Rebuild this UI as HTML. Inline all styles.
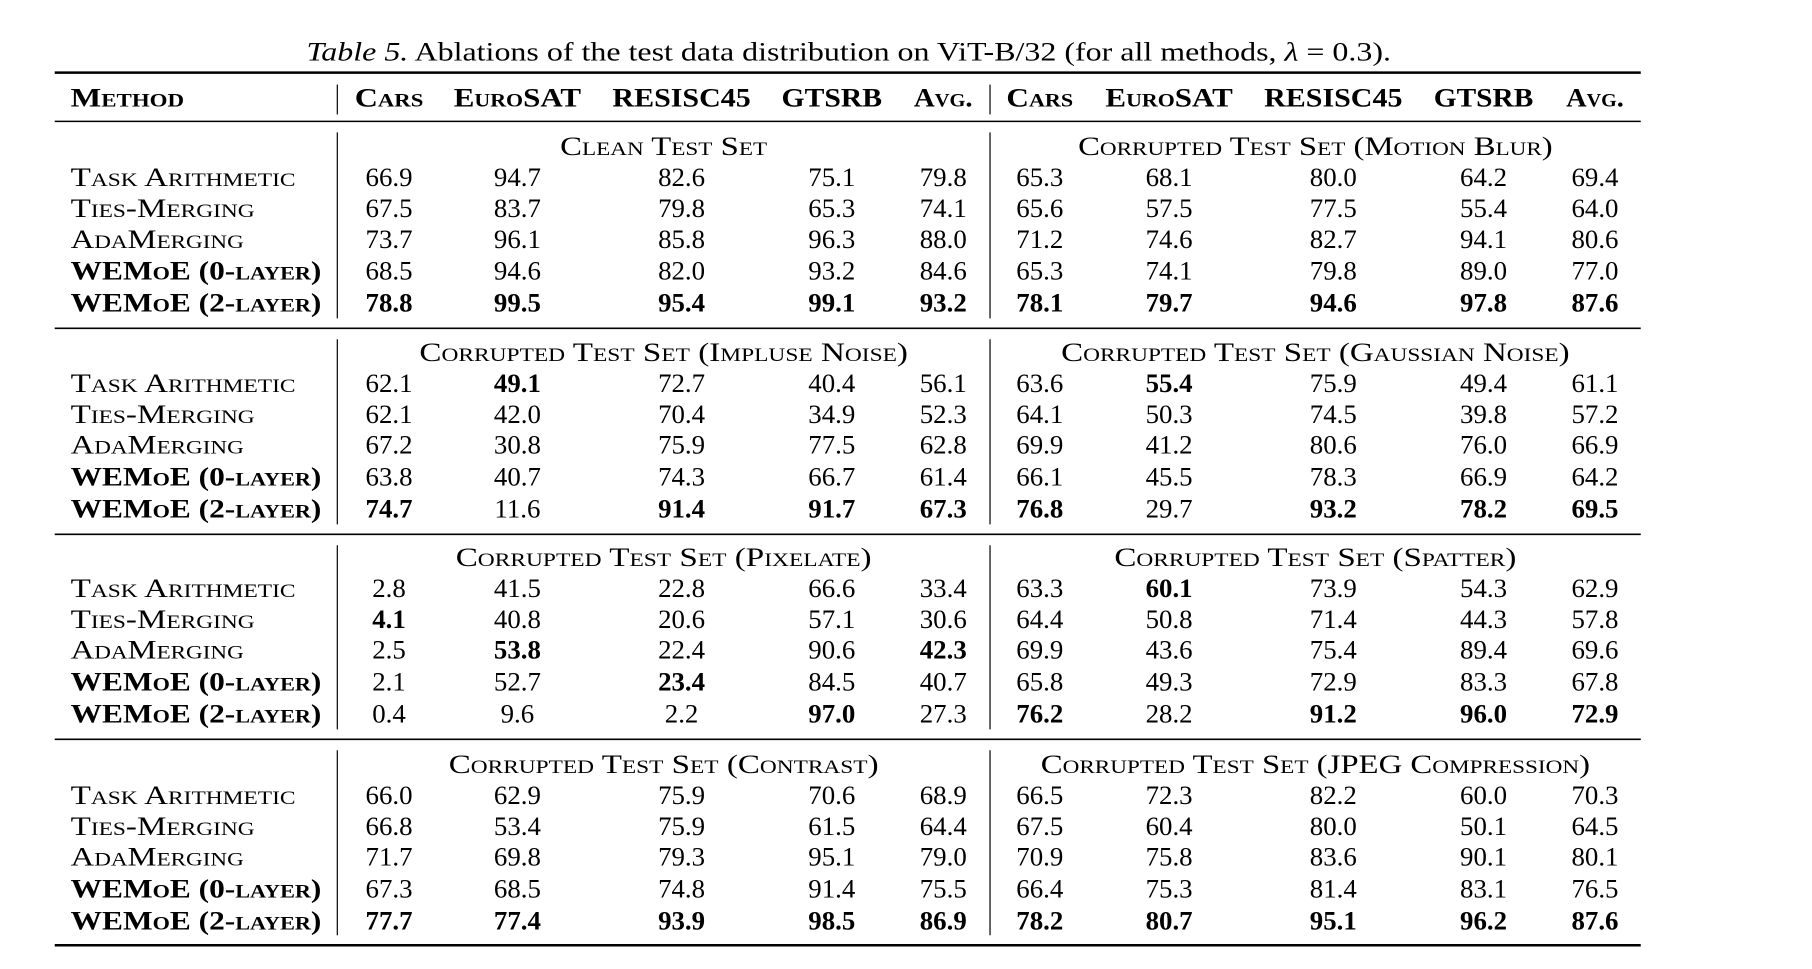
<!DOCTYPE html>
<html><head><meta charset="utf-8"><style>
html,body{margin:0;padding:0;background:#fff;}
svg{display:block;}
text{font-family:"Liberation Serif",serif;font-size:27px;fill:#000;}
.sc{font-variant:small-caps;}
.b{font-weight:bold;}
.m{text-anchor:middle;}
</style></head><body>
<svg width="1812" height="969" viewBox="0 0 1812 969" xmlns="http://www.w3.org/2000/svg">
<g transform="scale(0.995)">
<text x="853" y="61" class="m" style="font-size:26px" textLength="1090" lengthAdjust="spacingAndGlyphs"><tspan font-style="italic">Table 5.</tspan> Ablations of the test data distribution on ViT-B/32 (for all methods, <tspan font-style="italic">λ</tspan> = 0.3).</text>
<g stroke="#000">
<line x1="55" x2="1649" y1="73" y2="73" stroke-width="2.6"/>
<line x1="55" x2="1649" y1="122" y2="122" stroke-width="1.6"/>
<line x1="55" x2="1649" y1="330" y2="330" stroke-width="1.6"/>
<line x1="55" x2="1649" y1="537" y2="537" stroke-width="1.6"/>
<line x1="55" x2="1649" y1="743" y2="743" stroke-width="1.6"/>
<line x1="55" x2="1649" y1="950" y2="950" stroke-width="2.6"/>
<g stroke-width="1.2">
<line x1="339" x2="339" y1="85" y2="115"/><line x1="995" x2="995" y1="85" y2="115"/>
<line x1="339" x2="339" y1="133" y2="320"/><line x1="995" x2="995" y1="133" y2="320"/>
<line x1="339" x2="339" y1="341" y2="527"/><line x1="995" x2="995" y1="341" y2="527"/>
<line x1="339" x2="339" y1="548" y2="733"/><line x1="995" x2="995" y1="548" y2="733"/>
<line x1="339" x2="339" y1="754" y2="940"/><line x1="995" x2="995" y1="754" y2="940"/>
</g></g>
<g class="sc b">
<text x="71" y="107" textLength="114" lengthAdjust="spacingAndGlyphs">Method</text>
<text x="391" y="107" class="m" textLength="69" lengthAdjust="spacingAndGlyphs">Cars</text>
<text x="520" y="107" class="m" textLength="128" lengthAdjust="spacingAndGlyphs">EuroSAT</text>
<text x="685" y="107" class="m" textLength="139" lengthAdjust="spacingAndGlyphs">RESISC45</text>
<text x="836" y="107" class="m" textLength="101" lengthAdjust="spacingAndGlyphs">GTSRB</text>
<text x="948" y="107" class="m" textLength="59" lengthAdjust="spacingAndGlyphs">Avg.</text>
<text x="1045" y="107" class="m" textLength="67" lengthAdjust="spacingAndGlyphs">Cars</text>
<text x="1175" y="107" class="m" textLength="128" lengthAdjust="spacingAndGlyphs">EuroSAT</text>
<text x="1340" y="107" class="m" textLength="139" lengthAdjust="spacingAndGlyphs">RESISC45</text>
<text x="1491" y="107" class="m" textLength="100" lengthAdjust="spacingAndGlyphs">GTSRB</text>
<text x="1603" y="107" class="m" textLength="58" lengthAdjust="spacingAndGlyphs">Avg.</text>
</g>
<g class="sc">
<text x="667" y="156" class="m" textLength="208" lengthAdjust="spacingAndGlyphs">Clean Test Set</text>
<text x="1322" y="156" class="m" textLength="477" lengthAdjust="spacingAndGlyphs">Corrupted Test Set (Motion Blur)</text>
<text x="667" y="363" class="m" textLength="491" lengthAdjust="spacingAndGlyphs">Corrupted Test Set (Impluse Noise)</text>
<text x="1322" y="363" class="m" textLength="511" lengthAdjust="spacingAndGlyphs">Corrupted Test Set (Gaussian Noise)</text>
<text x="667" y="569" class="m" textLength="418" lengthAdjust="spacingAndGlyphs">Corrupted Test Set (Pixelate)</text>
<text x="1322" y="569" class="m" textLength="404" lengthAdjust="spacingAndGlyphs">Corrupted Test Set (Spatter)</text>
<text x="667" y="777" class="m" textLength="432" lengthAdjust="spacingAndGlyphs">Corrupted Test Set (Contrast)</text>
<text x="1322" y="777" class="m" textLength="552" lengthAdjust="spacingAndGlyphs">Corrupted Test Set (JPEG Compression)</text>
</g>
<g id="names">
<text class="sc" x="71" y="187" textLength="226" lengthAdjust="spacingAndGlyphs">Task Arithmetic</text>
<text class="sc" x="71" y="218" textLength="185" lengthAdjust="spacingAndGlyphs">Ties-Merging</text>
<text class="sc" x="71" y="249" textLength="174" lengthAdjust="spacingAndGlyphs">AdaMerging</text>
<text class="sc b" x="71" y="281" textLength="252" lengthAdjust="spacingAndGlyphs">WEMoE (0-layer)</text>
<text class="sc b" x="71" y="313" textLength="252" lengthAdjust="spacingAndGlyphs">WEMoE (2-layer)</text>
</g>
<use href="#names" y="207"/>
<use href="#names" y="413"/>
<use href="#names" y="621"/>
<g class="m">
<text x="391" y="187">66.9</text><text x="520" y="187">94.7</text><text x="685" y="187">82.6</text><text x="836" y="187">75.1</text><text x="948" y="187">79.8</text>
<text x="1045" y="187">65.3</text><text x="1175" y="187">68.1</text><text x="1340" y="187">80.0</text><text x="1491" y="187">64.2</text><text x="1603" y="187">69.4</text>
<text x="391" y="218">67.5</text><text x="520" y="218">83.7</text><text x="685" y="218">79.8</text><text x="836" y="218">65.3</text><text x="948" y="218">74.1</text>
<text x="1045" y="218">65.6</text><text x="1175" y="218">57.5</text><text x="1340" y="218">77.5</text><text x="1491" y="218">55.4</text><text x="1603" y="218">64.0</text>
<text x="391" y="249">73.7</text><text x="520" y="249">96.1</text><text x="685" y="249">85.8</text><text x="836" y="249">96.3</text><text x="948" y="249">88.0</text>
<text x="1045" y="249">71.2</text><text x="1175" y="249">74.6</text><text x="1340" y="249">82.7</text><text x="1491" y="249">94.1</text><text x="1603" y="249">80.6</text>
<text x="391" y="281">68.5</text><text x="520" y="281">94.6</text><text x="685" y="281">82.0</text><text x="836" y="281">93.2</text><text x="948" y="281">84.6</text>
<text x="1045" y="281">65.3</text><text x="1175" y="281">74.1</text><text x="1340" y="281">79.8</text><text x="1491" y="281">89.0</text><text x="1603" y="281">77.0</text>
<text class="b" x="391" y="313">78.8</text><text class="b" x="520" y="313">99.5</text><text class="b" x="685" y="313">95.4</text><text class="b" x="836" y="313">99.1</text><text class="b" x="948" y="313">93.2</text>
<text class="b" x="1045" y="313">78.1</text><text class="b" x="1175" y="313">79.7</text><text class="b" x="1340" y="313">94.6</text><text class="b" x="1491" y="313">97.8</text><text class="b" x="1603" y="313">87.6</text>
<text x="391" y="394">62.1</text><text class="b" x="520" y="394">49.1</text><text x="685" y="394">72.7</text><text x="836" y="394">40.4</text><text x="948" y="394">56.1</text>
<text x="1045" y="394">63.6</text><text class="b" x="1175" y="394">55.4</text><text x="1340" y="394">75.9</text><text x="1491" y="394">49.4</text><text x="1603" y="394">61.1</text>
<text x="391" y="425">62.1</text><text x="520" y="425">42.0</text><text x="685" y="425">70.4</text><text x="836" y="425">34.9</text><text x="948" y="425">52.3</text>
<text x="1045" y="425">64.1</text><text x="1175" y="425">50.3</text><text x="1340" y="425">74.5</text><text x="1491" y="425">39.8</text><text x="1603" y="425">57.2</text>
<text x="391" y="456">67.2</text><text x="520" y="456">30.8</text><text x="685" y="456">75.9</text><text x="836" y="456">77.5</text><text x="948" y="456">62.8</text>
<text x="1045" y="456">69.9</text><text x="1175" y="456">41.2</text><text x="1340" y="456">80.6</text><text x="1491" y="456">76.0</text><text x="1603" y="456">66.9</text>
<text x="391" y="488">63.8</text><text x="520" y="488">40.7</text><text x="685" y="488">74.3</text><text x="836" y="488">66.7</text><text x="948" y="488">61.4</text>
<text x="1045" y="488">66.1</text><text x="1175" y="488">45.5</text><text x="1340" y="488">78.3</text><text x="1491" y="488">66.9</text><text x="1603" y="488">64.2</text>
<text class="b" x="391" y="520">74.7</text><text x="520" y="520">11.6</text><text class="b" x="685" y="520">91.4</text><text class="b" x="836" y="520">91.7</text><text class="b" x="948" y="520">67.3</text>
<text class="b" x="1045" y="520">76.8</text><text x="1175" y="520">29.7</text><text class="b" x="1340" y="520">93.2</text><text class="b" x="1491" y="520">78.2</text><text class="b" x="1603" y="520">69.5</text>
<text x="391" y="600">2.8</text><text x="520" y="600">41.5</text><text x="685" y="600">22.8</text><text x="836" y="600">66.6</text><text x="948" y="600">33.4</text>
<text x="1045" y="600">63.3</text><text class="b" x="1175" y="600">60.1</text><text x="1340" y="600">73.9</text><text x="1491" y="600">54.3</text><text x="1603" y="600">62.9</text>
<text class="b" x="391" y="631">4.1</text><text x="520" y="631">40.8</text><text x="685" y="631">20.6</text><text x="836" y="631">57.1</text><text x="948" y="631">30.6</text>
<text x="1045" y="631">64.4</text><text x="1175" y="631">50.8</text><text x="1340" y="631">71.4</text><text x="1491" y="631">44.3</text><text x="1603" y="631">57.8</text>
<text x="391" y="662">2.5</text><text class="b" x="520" y="662">53.8</text><text x="685" y="662">22.4</text><text x="836" y="662">90.6</text><text class="b" x="948" y="662">42.3</text>
<text x="1045" y="662">69.9</text><text x="1175" y="662">43.6</text><text x="1340" y="662">75.4</text><text x="1491" y="662">89.4</text><text x="1603" y="662">69.6</text>
<text x="391" y="694">2.1</text><text x="520" y="694">52.7</text><text class="b" x="685" y="694">23.4</text><text x="836" y="694">84.5</text><text x="948" y="694">40.7</text>
<text x="1045" y="694">65.8</text><text x="1175" y="694">49.3</text><text x="1340" y="694">72.9</text><text x="1491" y="694">83.3</text><text x="1603" y="694">67.8</text>
<text x="391" y="726">0.4</text><text x="520" y="726">9.6</text><text x="685" y="726">2.2</text><text class="b" x="836" y="726">97.0</text><text x="948" y="726">27.3</text>
<text class="b" x="1045" y="726">76.2</text><text x="1175" y="726">28.2</text><text class="b" x="1340" y="726">91.2</text><text class="b" x="1491" y="726">96.0</text><text class="b" x="1603" y="726">72.9</text>
<text x="391" y="808">66.0</text><text x="520" y="808">62.9</text><text x="685" y="808">75.9</text><text x="836" y="808">70.6</text><text x="948" y="808">68.9</text>
<text x="1045" y="808">66.5</text><text x="1175" y="808">72.3</text><text x="1340" y="808">82.2</text><text x="1491" y="808">60.0</text><text x="1603" y="808">70.3</text>
<text x="391" y="839">66.8</text><text x="520" y="839">53.4</text><text x="685" y="839">75.9</text><text x="836" y="839">61.5</text><text x="948" y="839">64.4</text>
<text x="1045" y="839">67.5</text><text x="1175" y="839">60.4</text><text x="1340" y="839">80.0</text><text x="1491" y="839">50.1</text><text x="1603" y="839">64.5</text>
<text x="391" y="870">71.7</text><text x="520" y="870">69.8</text><text x="685" y="870">79.3</text><text x="836" y="870">95.1</text><text x="948" y="870">79.0</text>
<text x="1045" y="870">70.9</text><text x="1175" y="870">75.8</text><text x="1340" y="870">83.6</text><text x="1491" y="870">90.1</text><text x="1603" y="870">80.1</text>
<text x="391" y="902">67.3</text><text x="520" y="902">68.5</text><text x="685" y="902">74.8</text><text x="836" y="902">91.4</text><text x="948" y="902">75.5</text>
<text x="1045" y="902">66.4</text><text x="1175" y="902">75.3</text><text x="1340" y="902">81.4</text><text x="1491" y="902">83.1</text><text x="1603" y="902">76.5</text>
<text class="b" x="391" y="934">77.7</text><text class="b" x="520" y="934">77.4</text><text class="b" x="685" y="934">93.9</text><text class="b" x="836" y="934">98.5</text><text class="b" x="948" y="934">86.9</text>
<text class="b" x="1045" y="934">78.2</text><text class="b" x="1175" y="934">80.7</text><text class="b" x="1340" y="934">95.1</text><text class="b" x="1491" y="934">96.2</text><text class="b" x="1603" y="934">87.6</text>
</g>
</g>
</svg>
</body></html>
